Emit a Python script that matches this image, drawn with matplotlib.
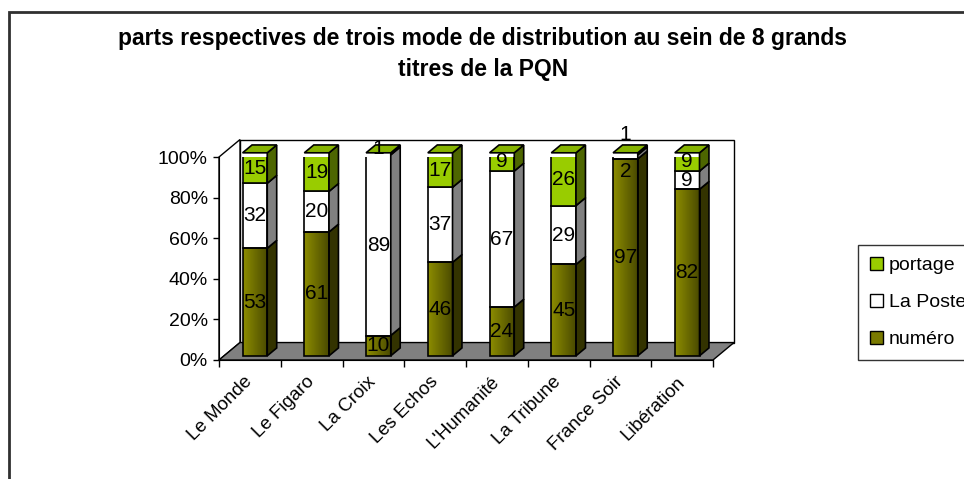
import matplotlib
matplotlib.use("Agg")
import matplotlib.pyplot as plt
import numpy as np
from matplotlib.patches import Polygon, Rectangle, Patch
from matplotlib.colors import LinearSegmentedColormap

plt.rcParams['font.family'] = ['Liberation Sans', 'DejaVu Sans']

# data
categories = ["Le Monde", "Le Figaro", "La Croix", "Les Echos",
              "L'Humanité", "La Tribune", "France Soir", "Libération"]
numero = [53, 61, 10, 46, 24, 45, 97, 82]
la_poste = [32, 20, 89, 37, 67, 29, 2, 9]
portage = [15, 19, 1, 17, 9, 26, 1, 9]
series_names = ["numéro", "La Poste", "portage"]
y_ticks = [0, 20, 40, 60, 80, 100]

# fake 3d geometry (data units)
WX, WY = 0.34, 8.6        # depth of the walls
BF, BD = 0.24, 0.45       # bar front offset / bar depth, as part of wall depth
BW = 0.4                  # bar width

front_cols = ["#808000", "#ffffff", "#99cc00"]
side_cols = ["#333300", "#808080", "#4d6600"]
top_cols = ["#666600", "#d0d0d0", "#86b300"]
olive = LinearSegmentedColormap.from_list("olive", ["#8c8c00", "#4a4a00"])

fig = plt.figure(figsize=(9.64, 4.79), dpi=100)
ax = fig.add_axes([219 / 964, (479 - 360) / 479, 494 / 964, 203 / 479])
ax.patch.set_visible(False)

# outer frame of the chart
fig.add_artist(Rectangle((9 / 964, -0.1), 1.0, 1.1 - 12.5 / 479, transform=fig.transFigure,
                         fill=False, ec="#303030", lw=2))

# walls and floor
x_lo, x_hi = -0.5, len(categories) - 0.5
ax.add_patch(Polygon([(x_lo, 0), (x_hi, 0), (x_hi + WX, WY), (x_lo + WX, WY)],
                     fc="#808080", ec="black", lw=1, zorder=1, clip_on=False))
ax.add_patch(Rectangle((x_lo + WX, WY), x_hi - x_lo, 100, fc="white", ec="black",
                       lw=1, zorder=0.9, clip_on=False))
ax.add_patch(Polygon([(x_lo, 0), (x_lo + WX, WY), (x_lo + WX, 100 + WY), (x_lo, 100)],
                     fc="white", ec="black", lw=1, zorder=0.95, clip_on=False))

# label nudges (France Soir small segments, La Croix top)
label_y = {(6, 1): 93, (6, 2): 111, (2, 2): 104}

series = [numero, la_poste, portage]
for i in range(len(categories)):
    x0 = i - BW / 2 + BF * WX
    x1 = x0 + BW
    base = BF * WY
    dx, dy = BD * WX, BD * WY
    for s, vals in enumerate(series):
        v = vals[i]
        y0, y1 = base, base + v
        z = 3 + i * 0.01
        if s == 0:
            grad = np.linspace(0, 1, 50).reshape(1, -1)
            ax.imshow(grad, extent=[x0, x1, y0, y1], cmap=olive, aspect="auto",
                      zorder=z, interpolation="bilinear")
            ax.add_patch(Rectangle((x0, y0), BW, v, fill=False, ec="black", lw=1.2, zorder=z + 0.001))
        else:
            ax.add_patch(Rectangle((x0, y0), BW, v, fc=front_cols[s], ec="black", lw=1.2, zorder=z))
        ax.add_patch(Polygon([(x1, y0), (x1 + dx, y0 + dy), (x1 + dx, y1 + dy), (x1, y1)],
                             fc=side_cols[s], ec="black", lw=1.2, zorder=z, clip_on=False))
        if s == len(series) - 1:
            ax.add_patch(Polygon([(x0, y1), (x1, y1), (x1 + dx, y1 + dy), (x0 + dx, y1 + dy)],
                                 fc=top_cols[s], ec="black", lw=1.2, zorder=z, clip_on=False))
        ly = label_y.get((i, s), y0 + v / 2)
        ax.text((x0 + x1) / 2, ly, str(v), ha="center", va="center", fontsize=15,
                zorder=10, clip_on=False)
        base = y1

ax.set_xlim(x_lo, x_hi)
ax.set_ylim(0, 100)

# axes
for sp in ["top", "right"]:
    ax.spines[sp].set_visible(False)
ax.spines["left"].set_zorder(2)
ax.spines["bottom"].set_zorder(2)
ax.set_yticks(y_ticks)
ax.set_yticklabels([f"{t}%" for t in y_ticks], fontsize=14)
ax.tick_params(axis="y", length=4, width=1, pad=4)
ax.set_xticks(np.arange(x_lo, x_hi + 0.01, 1.0), minor=True)
ax.set_xticks([])
ax.tick_params(axis="x", which="minor", length=5, width=1)
for i, cat in enumerate(categories):
    ax.annotate(cat, xy=(i, 0), xycoords="data", xytext=(0, -14), textcoords="offset points",
                rotation=45, ha="right", va="center", rotation_mode="anchor", fontsize=13.5,
                annotation_clip=False)

fig.text(0.501, 1 - 27 / 479,
         "parts respectives de trois mode de distribution au sein de 8 grands\ntitres de la PQN",
         ha="center", va="top", fontsize=16.5, fontweight="bold", linespacing=1.42)

handles = [Patch(fc=front_cols[2], ec="black"), Patch(fc="white", ec="black"),
           Patch(fc="#7a7a00", ec="black")]
leg = fig.legend(handles, series_names[::-1], loc="upper left",
                 bbox_to_anchor=(858 / 964, 1 - 245 / 479), fontsize=14, frameon=True,
                 fancybox=False, handlelength=0.7, handleheight=0.7, handletextpad=0.3,
                 labelspacing=1.0, borderpad=0.6, borderaxespad=0)
leg.get_frame().set_edgecolor("black")
leg.get_frame().set_linewidth(1)

fig.savefig("out.png", dpi=100)
